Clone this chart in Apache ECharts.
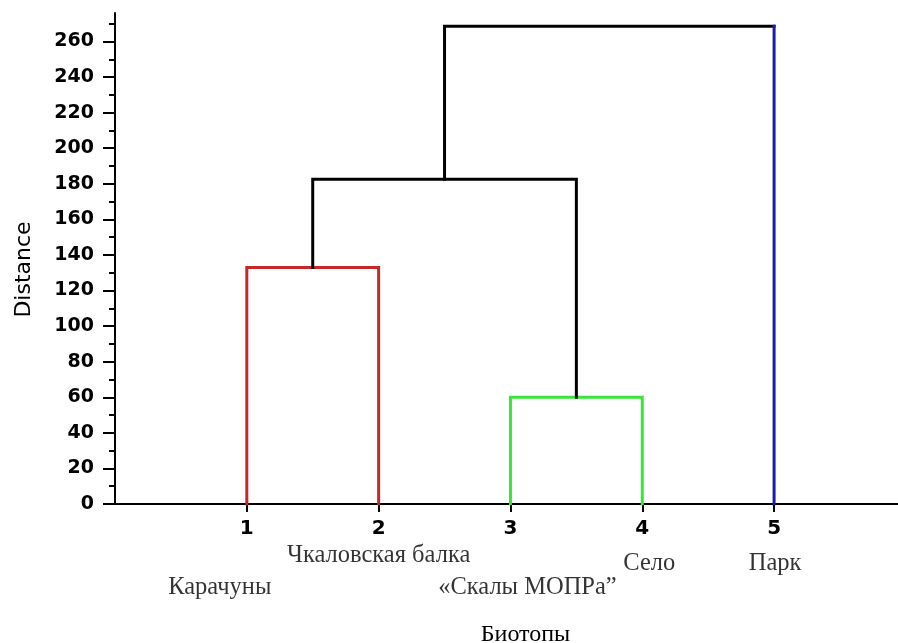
<!DOCTYPE html>
<html>
<head>
<meta charset="utf-8">
<script src="https://cdn.jsdelivr.net/npm/echarts@6/dist/echarts.min.js"></script>
<style>html,body{margin:0;padding:0;background:#fff}#c{width:898px;height:643px}</style>
</head>
<body>
<div id="c"></div>
<script>
// ---- data ----
const leafPositions = [1, 2, 3, 4, 5];
const leafNames = ['Карачуны', 'Чкаловская балка', '«Скалы МОПРа”', 'Село', 'Парк'];
const yTickValues = [0, 20, 40, 60, 80, 100, 120, 140, 160, 180, 200, 220, 240, 260];
const yMinorTickValues = [10, 30, 50, 70, 90, 110, 130, 150, 170, 190, 210, 230, 250, 270];
// merge heights (Distance)
const heightRed = 133;      // leaves 1 & 2
const heightGreen = 60;     // leaves 3 & 4
const heightMid = 182.5;    // (1,2) & (3,4)
const heightRoot = 268.5;   // ((1,2),(3,4)) & 5
const yAxisName = 'Distance';
const xAxisName = 'Биотопы';

// ---- styling (not data) ----
const nameLabelOffsets = [[-27, 84], [0, 52], [17, 84], [7, 60], [1, 60]];
const cRed = '#c62828', cGreen = '#37e637', cBlue = '#1c1ca6', cBlack = '#000';

// build dendrogram branches from the merge structure
const L = leafPositions;
const cA = (L[0] + L[1]) / 2;
const cB = (L[2] + L[3]) / 2;
const cC = (cA + cB) / 2;
const redPath = [[L[0], 0], [L[0], heightRed], [L[1], heightRed], [L[1], 0]];
const greenPath = [[L[2], 0], [L[2], heightGreen], [L[3], heightGreen], [L[3], 0]];
const midPath = [[cA, heightRed], [cA, heightMid], [cB, heightMid], [cB, heightGreen]];
const rootPath = [[cC, heightMid], [cC, heightRoot], [L[4], heightRoot]];
const bluePath = [[L[4], heightRoot], [L[4], 0]];

function seg(data, color) {
  return {
    type: 'line', data: data, symbol: 'none', animation: false, silent: true,
    lineStyle: { color: color, width: 3, join: 'miter', cap: 'square' }, z: 3
  };
}

const chart = echarts.init(document.getElementById('c'));
chart.setOption({
  animation: false,
  grid: { left: 115, right: 0, top: 13, bottom: 139, containLabel: false, outerBoundsMode: 'none' },
  xAxis: {
    type: 'value', min: 0, max: 5.94,
    name: xAxisName, nameLocation: 'middle', nameGap: 119,
    nameTextStyle: { fontFamily: 'Liberation Serif', fontSize: 24, color: '#000', padding: [0, 0, 0, 38] },
    axisLine: { show: true, onZero: false, lineStyle: { color: '#000', width: 2 } },
    axisTick: { show: true, customValues: leafPositions, length: 8, lineStyle: { color: '#000', width: 2 } },
    axisLabel: { customValues: leafPositions, margin: 15, fontFamily: 'DejaVu Sans', fontWeight: 'bold', fontSize: 20, color: '#000' },
    splitLine: { show: false }
  },
  yAxis: [{
    type: 'value', min: 0, max: 276,
    name: yAxisName, nameLocation: 'middle', nameGap: 80, nameRotate: 90,
    nameTextStyle: { fontFamily: 'DejaVu Sans', fontSize: 22, color: '#000', padding: [0, 22, 0, 0] },
    axisLine: { show: true, lineStyle: { color: '#000', width: 2 } },
    axisTick: { show: true, customValues: yTickValues, length: 12, lineStyle: { color: '#000', width: 2 } },
    axisLabel: { customValues: yTickValues, margin: 21, fontFamily: 'DejaVu Sans', fontWeight: 'bold', fontSize: 19, color: '#000' },
    splitLine: { show: false }
  }, {
    type: 'value', min: 0, max: 276, position: 'left',
    axisLine: { show: false },
    axisTick: { show: true, customValues: yMinorTickValues, length: 6, lineStyle: { color: '#000', width: 2 } },
    axisLabel: { show: false },
    splitLine: { show: false }
  }],
  series: [
    seg(redPath, cRed),
    seg(greenPath, cGreen),
    seg(midPath, cBlack),
    seg(rootPath, cBlack),
    seg(bluePath, cBlue),
    {
      type: 'scatter', symbolSize: 0, clip: false, silent: true, z: 5,
      data: leafPositions.map((x, i) => ({
        value: [x, 0], name: leafNames[i],
        label: { offset: nameLabelOffsets[i] }
      })),
      label: {
        show: true, position: 'inside', formatter: p => p.name,
        fontFamily: 'Liberation Serif', fontSize: 24.5, color: '#000',
        align: 'center', verticalAlign: 'middle'
      }
    }
  ]
});
</script>
</body>
</html>
